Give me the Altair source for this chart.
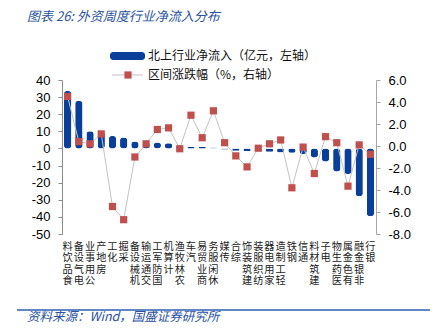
import altair as alt
import pandas as pd

industries = ["食品饮料", "电气设备", "公用事业", "房地产", "化工", "采掘", "机械设备",
              "交通运输", "国防军工", "计算机", "农林牧渔", "汽车", "商业贸易", "休闲服务",
              "传媒", "综合", "建筑装饰", "纺织服装", "家用电器", "轻工制造", "钢铁", "通信",
              "建筑材料", "电子", "医药生物", "有色金属", "非银金融", "银行"]
inflow = [33.5, 27.8, 10.0, 9.5, 7.2, 6.4, 4.1, 3.5, 3.5, 3.0, 1.0, 0.8, 0.8, 0.5,
          -0.6, -1.4, -1.6, -1.5, -2.0, -2.3, -2.5, -3.3, -5.3, -7.6, -13.5, -15.0, -28.0, -39.6]
change = [4.5, 0.4, 0.2, 1.1, -5.5, -6.7, -1.0, 0.2, 1.5, 1.65, -0.25, 2.8, 0.75, 3.2,
          0.3, -0.9, -1.9, -0.2, 0.2, 0.55, -3.8, -0.1, -2.5, 0.85, 0.3, -3.65, 0.1, -0.75]
left_ticks = [-50, -40, -30, -20, -10, 0, 10, 20, 30, 40]
right_ticks = [-8, -6, -4, -2, 0, 2, 4, 6]
legend_labels = ["北上行业净流入（亿元，左轴）", "区间涨跌幅（%，右轴）"]
title_text = ["图表 26:  外资周度行业净流入分布"]
source_text = ["资料来源：Wind，国盛证券研究所"]

BLUE = "#0a3f99"
RED = "#c0504d"
GRAY_LINE = "#c3c3c3"
TXT_BLUE = "#2a52a0"
FONT_CJK = "Noto Sans CJK SC"
FONT_NUM = "Liberation Sans"

W, H = 314, 154
LEFT_DOMAIN = [-50, 40]
RIGHT_DOMAIN = [-8, 6]
zero_px = H * LEFT_DOMAIN[1] / (LEFT_DOMAIN[1] - LEFT_DOMAIN[0])

df = pd.DataFrame({"industry": industries, "inflow": inflow, "change": change})
xscale = alt.Scale(paddingInner=0.35, paddingOuter=0.175)
minus_fix = "replace(datum.label, '\u2212', '-')"

right_axis = alt.Axis(orient="right", values=right_ticks, format=".1f", grid=False,
                      domainColor="#a6a6a6", tickColor="#a6a6a6", tickSize=4,
                      labelFont=FONT_NUM, labelFontSize=13, labelColor="#000000",
                      labelPadding=8, labelExpr=minus_fix)
right_scale = alt.Scale(domain=RIGHT_DOMAIN, nice=False, zero=False)

base = alt.Chart(df)

bars = base.mark_bar(color=BLUE, cornerRadius=3).encode(
    x=alt.X("industry:N", sort=None, scale=xscale, title=None,
            axis=alt.Axis(orient="bottom", domain=False, ticks=False, labelAngle=0,
                          labelExpr="reverse(split(datum.label, ''))",
                          labelBaseline="top", labelAlign="center",
                          labelFont=FONT_CJK, labelFontSize=10.2, labelLineHeight=11.5,
                          labelPadding=7, labelColor="#222222", labelOverlap=False,
                          labelLimit=0)),
    y=alt.Y("inflow:Q", scale=alt.Scale(domain=LEFT_DOMAIN, nice=False, zero=False), title=None,
            axis=alt.Axis(orient="left", values=left_ticks, grid=False,
                          domainColor="#8c8c8c", tickColor="#8c8c8c", tickSize=4,
                          labelFont=FONT_NUM, labelFontSize=13, labelColor="#000000",
                          labelPadding=8, labelExpr=minus_fix)),
)

line = base.mark_line(color=GRAY_LINE, strokeWidth=1).encode(
    x=alt.X("industry:N", sort=None, scale=xscale, title=None,
            axis=alt.Axis(orient="top", position=zero_px, labels=False,
                          domainColor="#333333", domainWidth=1, tickColor="#a6a6a6",
                          tickSize=3, tickBand="extent", zindex=1)),
    y=alt.Y("change:Q", scale=right_scale, title=None, axis=right_axis),
)
points = base.mark_point(shape="square", filled=True, size=52, color=RED, opacity=1).encode(
    x=alt.X("industry:N", sort=None, axis=None),
    y=alt.Y("change:Q", scale=right_scale, title=None, axis=right_axis),
)
right = alt.layer(line, points)

one = pd.DataFrame({"k": [0]})
leg_rect = alt.Chart(one).mark_rect(color=BLUE, cornerRadius=3).encode(
    x=alt.value(48), x2=alt.value(83), y=alt.value(-28), y2=alt.value(-20))
leg_line = alt.Chart(one).mark_rule(color=GRAY_LINE, strokeWidth=1).encode(
    x=alt.value(50), x2=alt.value(81), y=alt.value(-5))
leg_point = alt.Chart(one).mark_point(shape="square", filled=True, size=52, color=RED,
                                      opacity=1).encode(x=alt.value(66), y=alt.value(-5))
leg_text1 = alt.Chart(pd.DataFrame({"t": [legend_labels[0]]})).mark_text(
    align="left", baseline="middle", font=FONT_CJK, fontSize=12, color="#111111").encode(
    x=alt.value(86), y=alt.value(-24), text="t:N")
leg_text2 = alt.Chart(pd.DataFrame({"t": [legend_labels[1]]})).mark_text(
    align="left", baseline="middle", font=FONT_CJK, fontSize=12, color="#111111").encode(
    x=alt.value(86), y=alt.value(-5), text="t:N")

title = alt.Chart(pd.DataFrame({"t": title_text})).mark_text(
    align="left", baseline="middle", font=FONT_CJK, fontSize=13, fontStyle="italic",
    color=TXT_BLUE).encode(x=alt.value(-35), y=alt.value(-63), text="t:N")
footer_rule = alt.Chart(one).mark_rule(color="#2f5fb3", strokeWidth=1.5).encode(
    x=alt.value(-45), x2=alt.value(368), y=alt.value(230))
footer = alt.Chart(pd.DataFrame({"t": source_text})).mark_text(
    align="left", baseline="middle", font=FONT_CJK, fontSize=12.5, fontStyle="italic",
    color=TXT_BLUE).encode(x=alt.value(-35), y=alt.value(237), text="t:N")

chart = alt.layer(
    bars, right, leg_rect, leg_line, leg_point, leg_text1, leg_text2, title, footer_rule, footer
).resolve_scale(y="independent").properties(
    width=W, height=H,
    padding={"left": 62, "top": 80, "right": 69, "bottom": 100},
    autosize="none",
    background="white",
).configure_view(strokeWidth=0)

chart.save("out.html", embed_options={"renderer": "svg", "actions": False})
